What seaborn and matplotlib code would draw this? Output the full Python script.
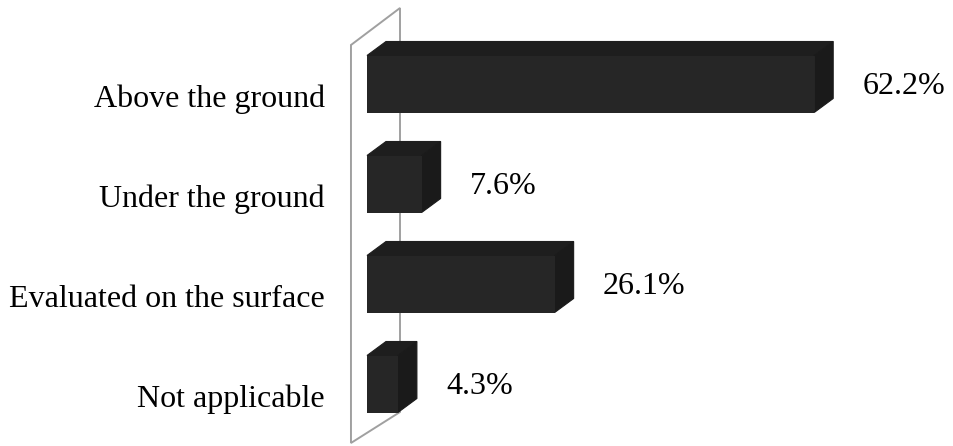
import matplotlib
matplotlib.use("Agg")
import matplotlib.pyplot as plt
from matplotlib.patches import Polygon
import pandas as pd
import seaborn as sns

categories = ["Above the ground", "Under the ground", "Evaluated on the surface", "Not applicable"]
values = [62.2, 7.6, 26.1, 4.3]
value_labels = ["62.2%", "7.6%", "26.1%", "4.3%"]

sns.set_theme(style="white")
plt.rcParams["font.family"] = ["Liberation Serif", "DejaVu Serif"]

FRONT = "#262626"
TOP = "#1e1e1e"
SIDE = "#1a1a1a"
WALL = "#a0a0a0"

# 3D depth offsets in data units (x in %, y in category units)
DX, DY = 2.64, -0.14
BAR_H = 0.57

df = pd.DataFrame({"category": categories, "value": values})

fig = plt.figure(figsize=(9.54, 4.46), dpi=100)
ax = fig.add_axes([340 / 954, 0, 614 / 954, 1])

sns.barplot(data=df, x="value", y="category", orient="h", color=FRONT,
            width=BAR_H, saturation=1, ax=ax, zorder=4,
            edgecolor="none", linewidth=0)

# back wall (parallelogram outline)
wall = Polygon([(-2.23, 3.59), (-2.23, -0.39), (4.59, -0.76), (4.59, 3.28)],
               closed=True, fill=False, edgecolor=WALL, lw=1.4, zorder=1)

bars = list(ax.patches[:len(values)])
ax.add_patch(wall)

for p in bars:
    x0, y0 = p.get_x(), p.get_y()
    w, h = p.get_width(), p.get_height()
    x1 = x0 + w
    ytop, ybot = y0, y0 + h  # y axis inverted: y0 is the upper edge
    top = Polygon([(x0, ytop), (x0 + DX, ytop + DY), (x1 + DX, ytop + DY), (x1, ytop)],
                  closed=True, facecolor=TOP, edgecolor=TOP, lw=0.8, zorder=3)
    side = Polygon([(x1, ytop), (x1 + DX, ytop + DY), (x1 + DX, ybot + DY), (x1, ybot)],
                   closed=True, facecolor=SIDE, edgecolor=SIDE, lw=0.8, zorder=3)
    ax.add_patch(top)
    ax.add_patch(side)

for i, (v, lab) in enumerate(zip(values, value_labels)):
    ax.text(v + 6.7, i + 0.02, lab, ha="left", va="center", fontsize=23, color="black")

ax.set_xlim(-27 / 7.19, 587 / 7.19)
ax.set_ylim(3.62, -0.84)
ax.set_yticks([i + 0.12 for i in range(len(categories))])
ax.set_yticklabels(categories, fontsize=23, color="black")
ax.tick_params(axis="y", length=0, pad=11)
ax.set_xticks([])
ax.set_xlabel("")
ax.set_ylabel("")
for s in ax.spines.values():
    s.set_visible(False)
ax.patch.set_alpha(0)

fig.savefig("out.png", dpi=100)
